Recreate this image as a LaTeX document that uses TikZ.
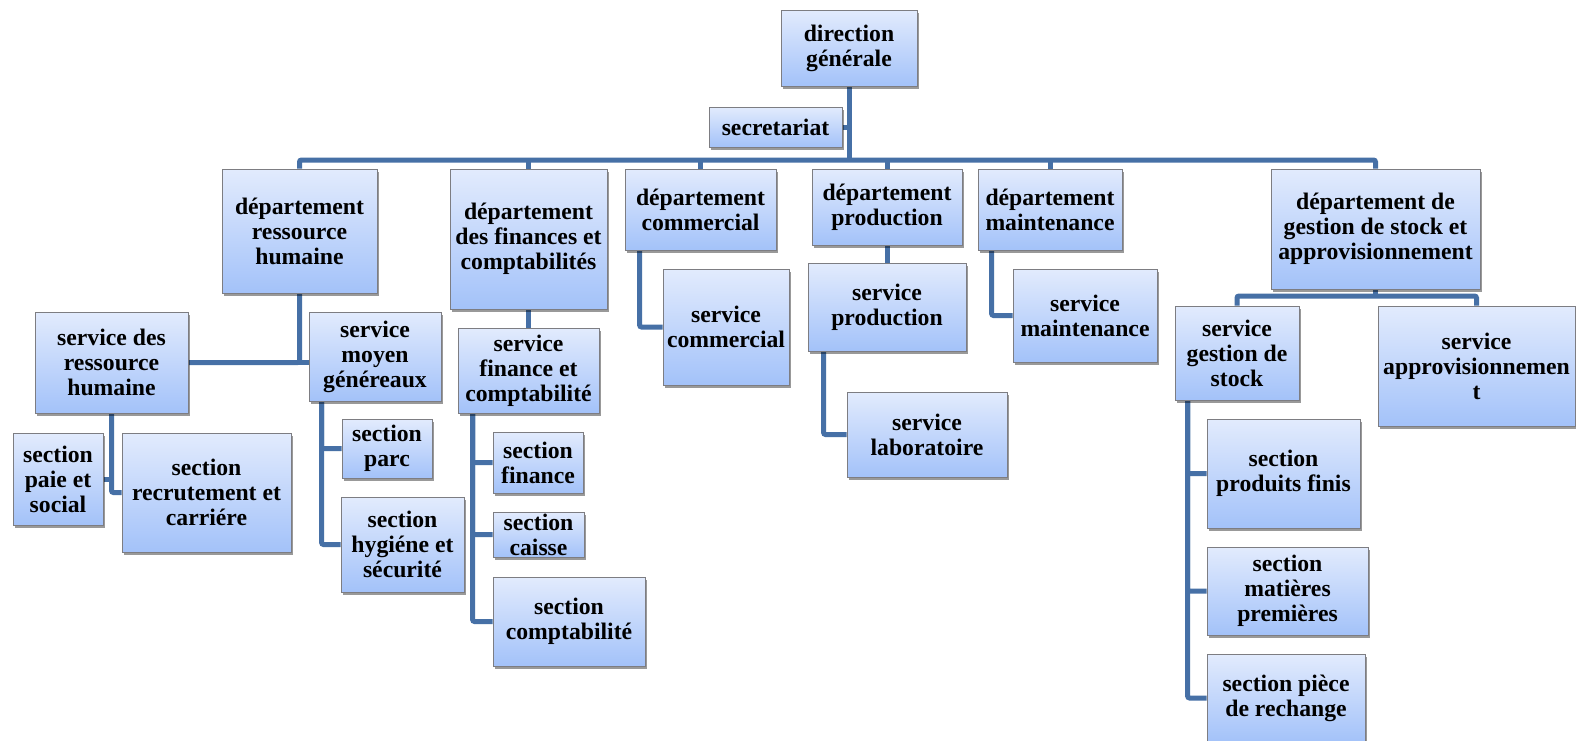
\documentclass[tikz,border=0pt]{standalone}
\usepackage{fontspec}
\setmainfont{Liberation Serif}
\usetikzlibrary{shadows,backgrounds,calc}
\definecolor{boxtop}{RGB}{226,235,253}
\definecolor{boxbot}{RGB}{163,194,249}
\definecolor{boxborder}{RGB}{125,125,130}
\definecolor{lineblue}{RGB}{70,112,166}
\begin{document}
\begin{tikzpicture}[x=1pt,y=-1pt,
  box/.style={draw=boxborder, line width=0.8pt, top color=boxtop, bottom color=boxbot,
    drop shadow={shadow xshift=2pt, shadow yshift=-3pt, opacity=0.4, fill=black},
    inner sep=0pt, align=center, font=\bfseries\fontsize{23.7}{25}\selectfont},
  wh/.style 2 args={minimum width=#1pt, minimum height=#2pt},
  conn/.style={draw=lineblue, line width=5pt, rounded corners=2pt}]
\useasboundingbox (0,0) rectangle (1576,740);
% top
\node[box, wh={136}{76}] (dg) at (849,48) {direction\\générale};
\node[box, wh={133}{40}] (sec) at (775.5,127) {secretariat};
% departments
\node[box, wh={155}{124}] (drh) at (299.5,231) {département\\ressource\\humaine};
\node[box, wh={157}{140}] (dfin) at (528.5,239) {département\\des finances et\\comptabilités};
\node[box, wh={151}{81}] (dcom) at (700.5,209.5) {département\\commercial};
\node[box, wh={150}{76}] (dprod) at (887,207) {département\\production};
\node[box, wh={144}{81}] (dmaint) at (1050,209.5) {département\\maintenance};
\node[box, wh={209}{120}] (dstock) at (1375.5,229) {département de\\gestion de stock et\\approvisionnement};
% RH
\node[box, wh={153}{101}] (srh) at (111.5,362.5) {service des\\ressource\\humaine};
\node[box, wh={132}{89}] (smg) at (375,356.5) {service\\moyen\\généreaux};
\node[box, wh={90}{92}] (paie) at (58,479) {section\\paie et\\social};
\node[box, wh={169}{119}] (srec) at (206.5,492.5) {section\\recrutement et\\carriére};
\node[box, wh={90}{59}] (parc) at (387,448.5) {section\\parc};
\node[box, wh={123}{95}] (hyg) at (402.5,544.5) {section\\hygiéne et\\sécurité};
% finance
\node[box, wh={141}{85}] (sfin) at (528.5,370.5) {service\\finance et\\comptabilité};
\node[box, wh={90}{61}] (sfina) at (538,462.5) {section\\finance};
\node[box, wh={91}{45}] (scai) at (538.5,534.5) {section\\caisse};
\node[box, wh={152}{89}] (scomp) at (569,621.5) {section\\comptabilité};
% commercial, production, maintenance
\node[box, wh={126}{116}] (scom) at (726,327) {service\\commercial};
\node[box, wh={158}{88}] (sprod) at (887,307) {service\\production};
\node[box, wh={160}{85}] (slab) at (927,434.5) {service\\laboratoire};
\node[box, wh={144}{93}] (smaint) at (1085,315.5) {service\\maintenance};
% stock
\node[box, wh={124}{94}] (sgs) at (1237,353) {service\\gestion de\\stock};
\node[box, wh={197}{120}] (sapp) at (1476.5,366) {service\\approvisionnemen\\t};
\node[box, wh={153}{109}] (spf) at (1283.5,473.5) {section\\produits finis};
\node[box, wh={161}{88}] (smp) at (1287.5,591) {section\\matières\\premières};
\node[box, wh={158}{88}] (spr) at (1286,698) {section pièce\\de rechange};
% connectors
\begin{scope}[on background layer]
\fill[white] (0,0) rectangle (1576,740);
\coordinate (bus) at (849,160);
\draw[conn] (dg.south) -- (bus);
\draw[conn] (drh.north) |- (bus) -| (dstock.north);
\draw[conn] (sec.east) -- (sec.east -| dg.south);
\draw[conn] (dfin.north) -- (dfin.north |- bus);
\draw[conn] (dcom.north) -- (dcom.north |- bus);
\draw[conn] (dprod.north) -- (dprod.north |- bus);
\draw[conn] (dmaint.north) -- (dmaint.north |- bus);
% RH
\draw[conn] (drh.south) |- (srh.east);
\draw[conn] (srh.east) -- (smg.west |- srh.east);
\draw[conn] (srh.south) |- (srec.west);
\draw[conn] (paie.east) -- (paie.east -| srh.south);
\coordinate (smgx) at ($(smg.south west)+(13,0)$);
\draw[conn] (smgx) |- (parc.west);
\draw[conn] (smgx) |- (hyg.west);
% finance
\draw[conn] (dfin.south) -- (sfin.north);
\coordinate (sfinx) at ($(sfin.south west)+(15,0)$);
\draw[conn] (sfinx) |- (sfina.west);
\draw[conn] (sfinx) |- (scai.west);
\draw[conn] (sfinx) |- (scomp.west);
% commercial
\coordinate (dcomx) at ($(dcom.south west)+(15,0)$);
\draw[conn] (dcomx) |- (scom.west);
% production
\draw[conn] (dprod.south) -- (sprod.north);
\coordinate (sprodx) at ($(sprod.south west)+(16,0)$);
\draw[conn] (sprodx) |- (slab.west);
% maintenance
\coordinate (dmaintx) at ($(dmaint.south west)+(14,0)$);
\draw[conn] (dmaintx) |- (smaint.west);
% stock
\coordinate (sbus) at (1375.5,296);
\draw[conn] (dstock.south) -- (sbus);
\draw[conn] (sgs.north) |- (sbus) -| (sapp.north);
\coordinate (sgsx) at ($(sgs.south west)+(13,0)$);
\draw[conn] (sgsx) |- (spf.west);
\draw[conn] (sgsx) |- (smp.west);
\draw[conn] (sgsx) |- (spr.west);
\end{scope}
\end{tikzpicture}
\end{document}
